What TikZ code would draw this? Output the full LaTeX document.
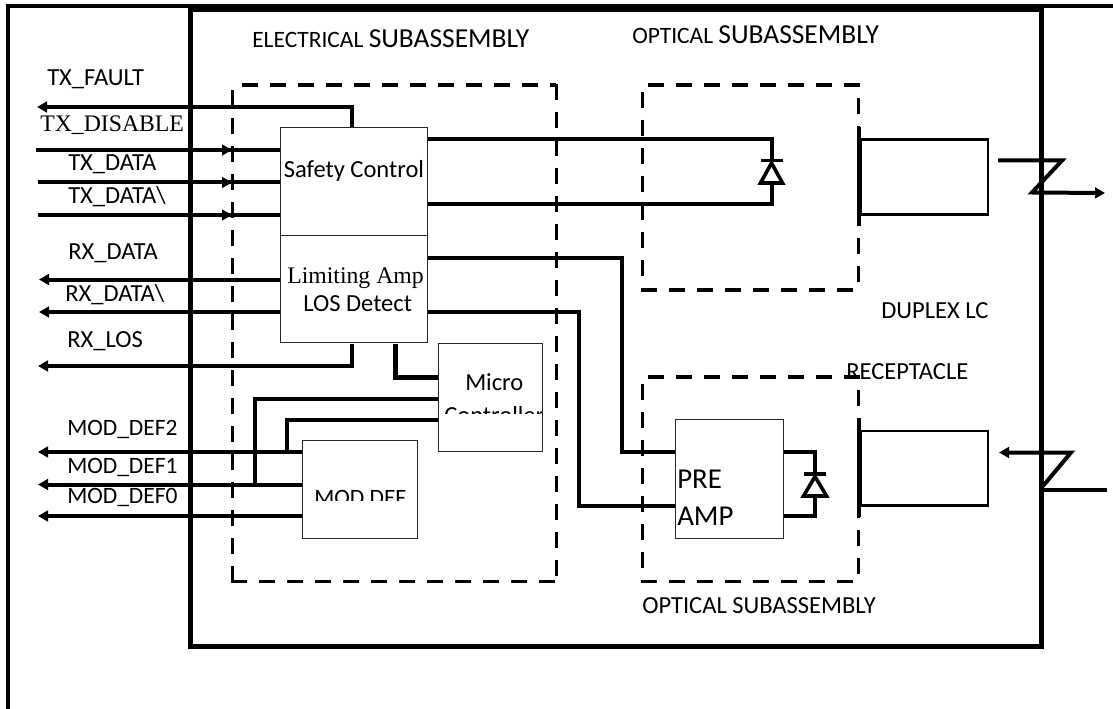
\documentclass[tikz,border=0pt]{standalone}
\usepackage{fontspec}
\setmainfont{Carlito}
\newfontfamily\timesf{Liberation Serif}
\usetikzlibrary{arrows.meta}
\def\px{0.75pt}
\definecolor{boxline}{RGB}{40,40,40}
\tikzset{
  x=0.75pt,y=-0.75pt,
  frame/.style={line width=5*\px,draw=black,line cap=rect},
  wire/.style={line width=4*\px,draw=black,line join=miter},
  outarrow/.style={wire,-{Triangle[length=7.5pt,width=8pt]}},
  thinarrow/.style={line width=3*\px,draw=black,-{Triangle[length=7.5pt,width=8pt]}},
  dashside/.style={line width=3.8*\px,draw=black,dash pattern=on 12pt off 9pt},
  blockbox/.style={draw=boxline,line width=1.3*\px,fill=white,inner sep=0pt,anchor=north west},
  lab/.style={inner sep=0pt,anchor=base west,font=\fontsize{18.4pt}{20pt}\selectfont},
  labm/.style={inner sep=0pt,anchor=base west,font=\fontsize{17.6pt}{20pt}\selectfont},
  labs/.style={inner sep=0pt,anchor=base west,font=\timesf\fontsize{17.8pt}{20pt}\selectfont},
  portbox/.style={draw=black,line width=2.6*\px},
}
\begin{document}
\begin{tikzpicture}
\useasboundingbox[fill=white] (0,0) rectangle (1113,709);
% outer frame
\draw[line width=4*\px] (8,709) -- (8,6) -- (1113,6);
\fill (188,4) rectangle (1044,12.5);
\draw[frame] (190,9) -- (190,646) -- (1041.5,646) -- (1041.5,9);
% dashed subassemblies
\draw[dashside] (242,85) -- (556,85);
\draw[dashside] (556.5,84) -- (556.5,581);
\draw[dashside] (232.5,90) -- (232.5,581);
\draw[dashside] (231,581.5) -- (556,581.5);
\draw[dashside] (648,85) -- (860,85);
\draw[dashside] (858.5,98) -- (858.5,282);
\draw[dashside] (642.5,92) -- (642.5,278);
\draw[dashside] (641,290) -- (855,290);
\draw[dashside] (648,377) -- (860,377);
\draw[dashside] (858.5,390) -- (858.5,574);
\draw[dashside] (642.5,384) -- (642.5,570);
\draw[dashside] (641,581.5) -- (855,581.5);
% free ends
\coordinate (txfault) at (37,107);
\coordinate (txdis) at (36,150);
\coordinate (txd) at (38,182.5);
\coordinate (txdn) at (38,215);
\coordinate (txdisT) at (232,150);
\coordinate (txdT) at (232,182.5);
\coordinate (txdnT) at (232,215);
\coordinate (rxd) at (39,279.5);
\coordinate (rxdn) at (39,312);
\coordinate (rxlos) at (38,366);
\coordinate (md2) at (38,452);
\coordinate (md1) at (38,484.5);
\coordinate (md0) at (38,516);
% blocks
\node[blockbox,minimum width=147*\px,minimum height=108*\px] (safety) at (280,127) {};
\node[blockbox,minimum width=147*\px,minimum height=107*\px] (limit) at (280,235) {};
\node[blockbox,minimum width=104.5*\px,minimum height=108*\px] (micro) at (437.5,343) {};
\node[blockbox,minimum width=115*\px,minimum height=97.5*\px] (moddef) at (302,440) {};
\node[blockbox,minimum width=108*\px,minimum height=119*\px] (preamp) at (675,419) {};
% connectors on the left
\draw[outarrow] (limit.west |- rxd) -- (rxd);
\draw[outarrow] (limit.west |- rxdn) -- (rxdn);
\draw[outarrow] (352,127) -- (352,107) -- (txfault);
\draw[outarrow] (352,343.5) -- (352,366) -- (rxlos);
\draw[wire] (txdis) -- (safety.west |- txdis);
\draw[wire] (txd) -- (safety.west |- txd);
\draw[wire] (txdn) -- (safety.west |- txdn);
\draw[thinarrow] (222,150) -- (txdisT);
\draw[thinarrow] (222,182.5) -- (txdT);
\draw[thinarrow] (222,215) -- (txdnT);
\draw[outarrow] (moddef.west |- md2) -- (md2);
\draw[outarrow] (moddef.west |- md1) -- (md1);
\draw[outarrow] (moddef.west |- md0) -- (md0);
% micro controller wiring
\draw[line width=5*\px] (395,344) -- (395,377) -- (micro.west |- 0,377);
\draw[wire] (micro.west |- 0,398.5) -- (254.5,398.5) -- (254.5,484.5);
\draw[wire] (micro.west |- 0,419.5) -- (287,419.5) -- (287,452);
% transmit diode
\coordinate (d1a) at (771.5,160.5);
\coordinate (d1b) at (771.5,183);
\draw[wire] (safety.east |- 0,139) -- (771.5,139) -- (d1a);
\draw[wire] (safety.east |- 0,204) -- (771.5,204) -- (d1b);
\draw[line width=3.6*\px] (761,160.5) -- (782.5,160.5);
\draw[line width=3.6*\px,line join=miter] (771.5,163) -- (760.5,183) -- (782.5,183) -- cycle;
% limiting amp to pre amp
\draw[wire] (limit.east |- 0,258.5) -- (621.5,258.5) -- (621.5,452) -- (preamp.west |- 0,452);
\draw[wire] (limit.east |- 0,312) -- (578.5,312) -- (578.5,506) -- (preamp.west |- 0,506);
% receive diode
\coordinate (d2a) at (815,474);
\coordinate (d2b) at (815,496);
\draw[wire] (preamp.east |- 0,451.5) -- (815,451.5) -- (d2a);
\draw[wire] (preamp.east |- 0,516) -- (815,516) -- (d2b);
\draw[line width=3.6*\px] (804,474) -- (826,474);
\draw[line width=3.6*\px,line join=miter] (815,476.5) -- (803.5,496) -- (826.5,496) -- cycle;
% receptacles
\node[inner sep=0pt,minimum width=127.5*\px,minimum height=74.5*\px,anchor=north west,portbox] (port1) at (859,138.5) {};
\node[inner sep=0pt,minimum width=127.5*\px,minimum height=74.5*\px,anchor=north west,portbox] (port2) at (859,429.5) {};
\draw[line width=3.2*\px] (859,127) -- (859,226);
\draw[line width=3.2*\px] (859,418) -- (859,517);
% fibres
\coordinate (f1a) at (998,160.5);
\coordinate (f1b) at (1105,193);
\coordinate (f2b) at (1107,490);
\draw[wire,-{Triangle[length=7.5pt,width=8pt]},line join=miter] (f1a) -- (1062,160.5) -- (1032,192.5) -- (f1b);
\draw[wire,-{Triangle[length=7.5pt,width=8pt]},line join=miter] (1043,486) -- (1071,452.5) -- (999,452.5);
\draw[wire] (1043,490) -- (f2b);
% labels
\node[labm] (l1) at (252,47.5) {ELECTRICAL \fontsize{20.6pt}{20pt}\selectfont SUBASSEMBLY};
\node[labm] (l2) at (632,44) {OPTICAL \fontsize{20.6pt}{20pt}\selectfont SUBASSEMBLY};
\node[lab] (l3) at (642,613) {OPTICAL SUBASSEMBLY};
\node[lab] (l4) at (881,318) {DUPLEX LC};
\node[lab] (l5) at (846,379) {RECEPTACLE};
\node[lab] (l6) at (47,86) {TX\_FAULT};
\node[labs] (l7) at (40,131.5) {TX\_DISABLE};
\node[lab] (l8) at (68,171) {TX\_DATA};
\node[lab] (l9) at (68,203.5) {TX\_DATA\textbackslash};
\node[lab] (l10) at (68,259.5) {RX\_DATA};
\node[lab] (l11) at (65,301) {RX\_DATA\textbackslash};
\node[lab] (l12) at (67,347) {RX\_LOS};
\node[labm] (l13) at (67,435) {MOD\_DEF2};
\node[labm] (l14) at (67,473) {MOD\_DEF1};
\node[labm] (l15) at (67,503) {MOD\_DEF0};
\node[lab] (t1) at (283.5,177.5) {Safety Control};
\node[labs] (t2) at (287,283) {Limiting Amp};
\node[lab] (t3) at (303,311.5) {LOS Detect};
\node[lab] (t4) at (465,390) {Micro};
\begin{scope}
\clip (438,395) rectangle (541,413.5);
\node[lab] (t5) at (444,423) {Controller};
\end{scope}
\begin{scope}
\clip (303,470) rectangle (416,500.5);
\node[labm] (t6) at (314,505) {MOD DEF};
\end{scope}
\node[lab,font=\fontsize{21.6pt}{24pt}\selectfont] (t7) at (677,488) {PRE};
\node[lab,font=\fontsize{21.6pt}{24pt}\selectfont] (t8) at (677,525.5) {AMP};
\end{tikzpicture}
\end{document}
